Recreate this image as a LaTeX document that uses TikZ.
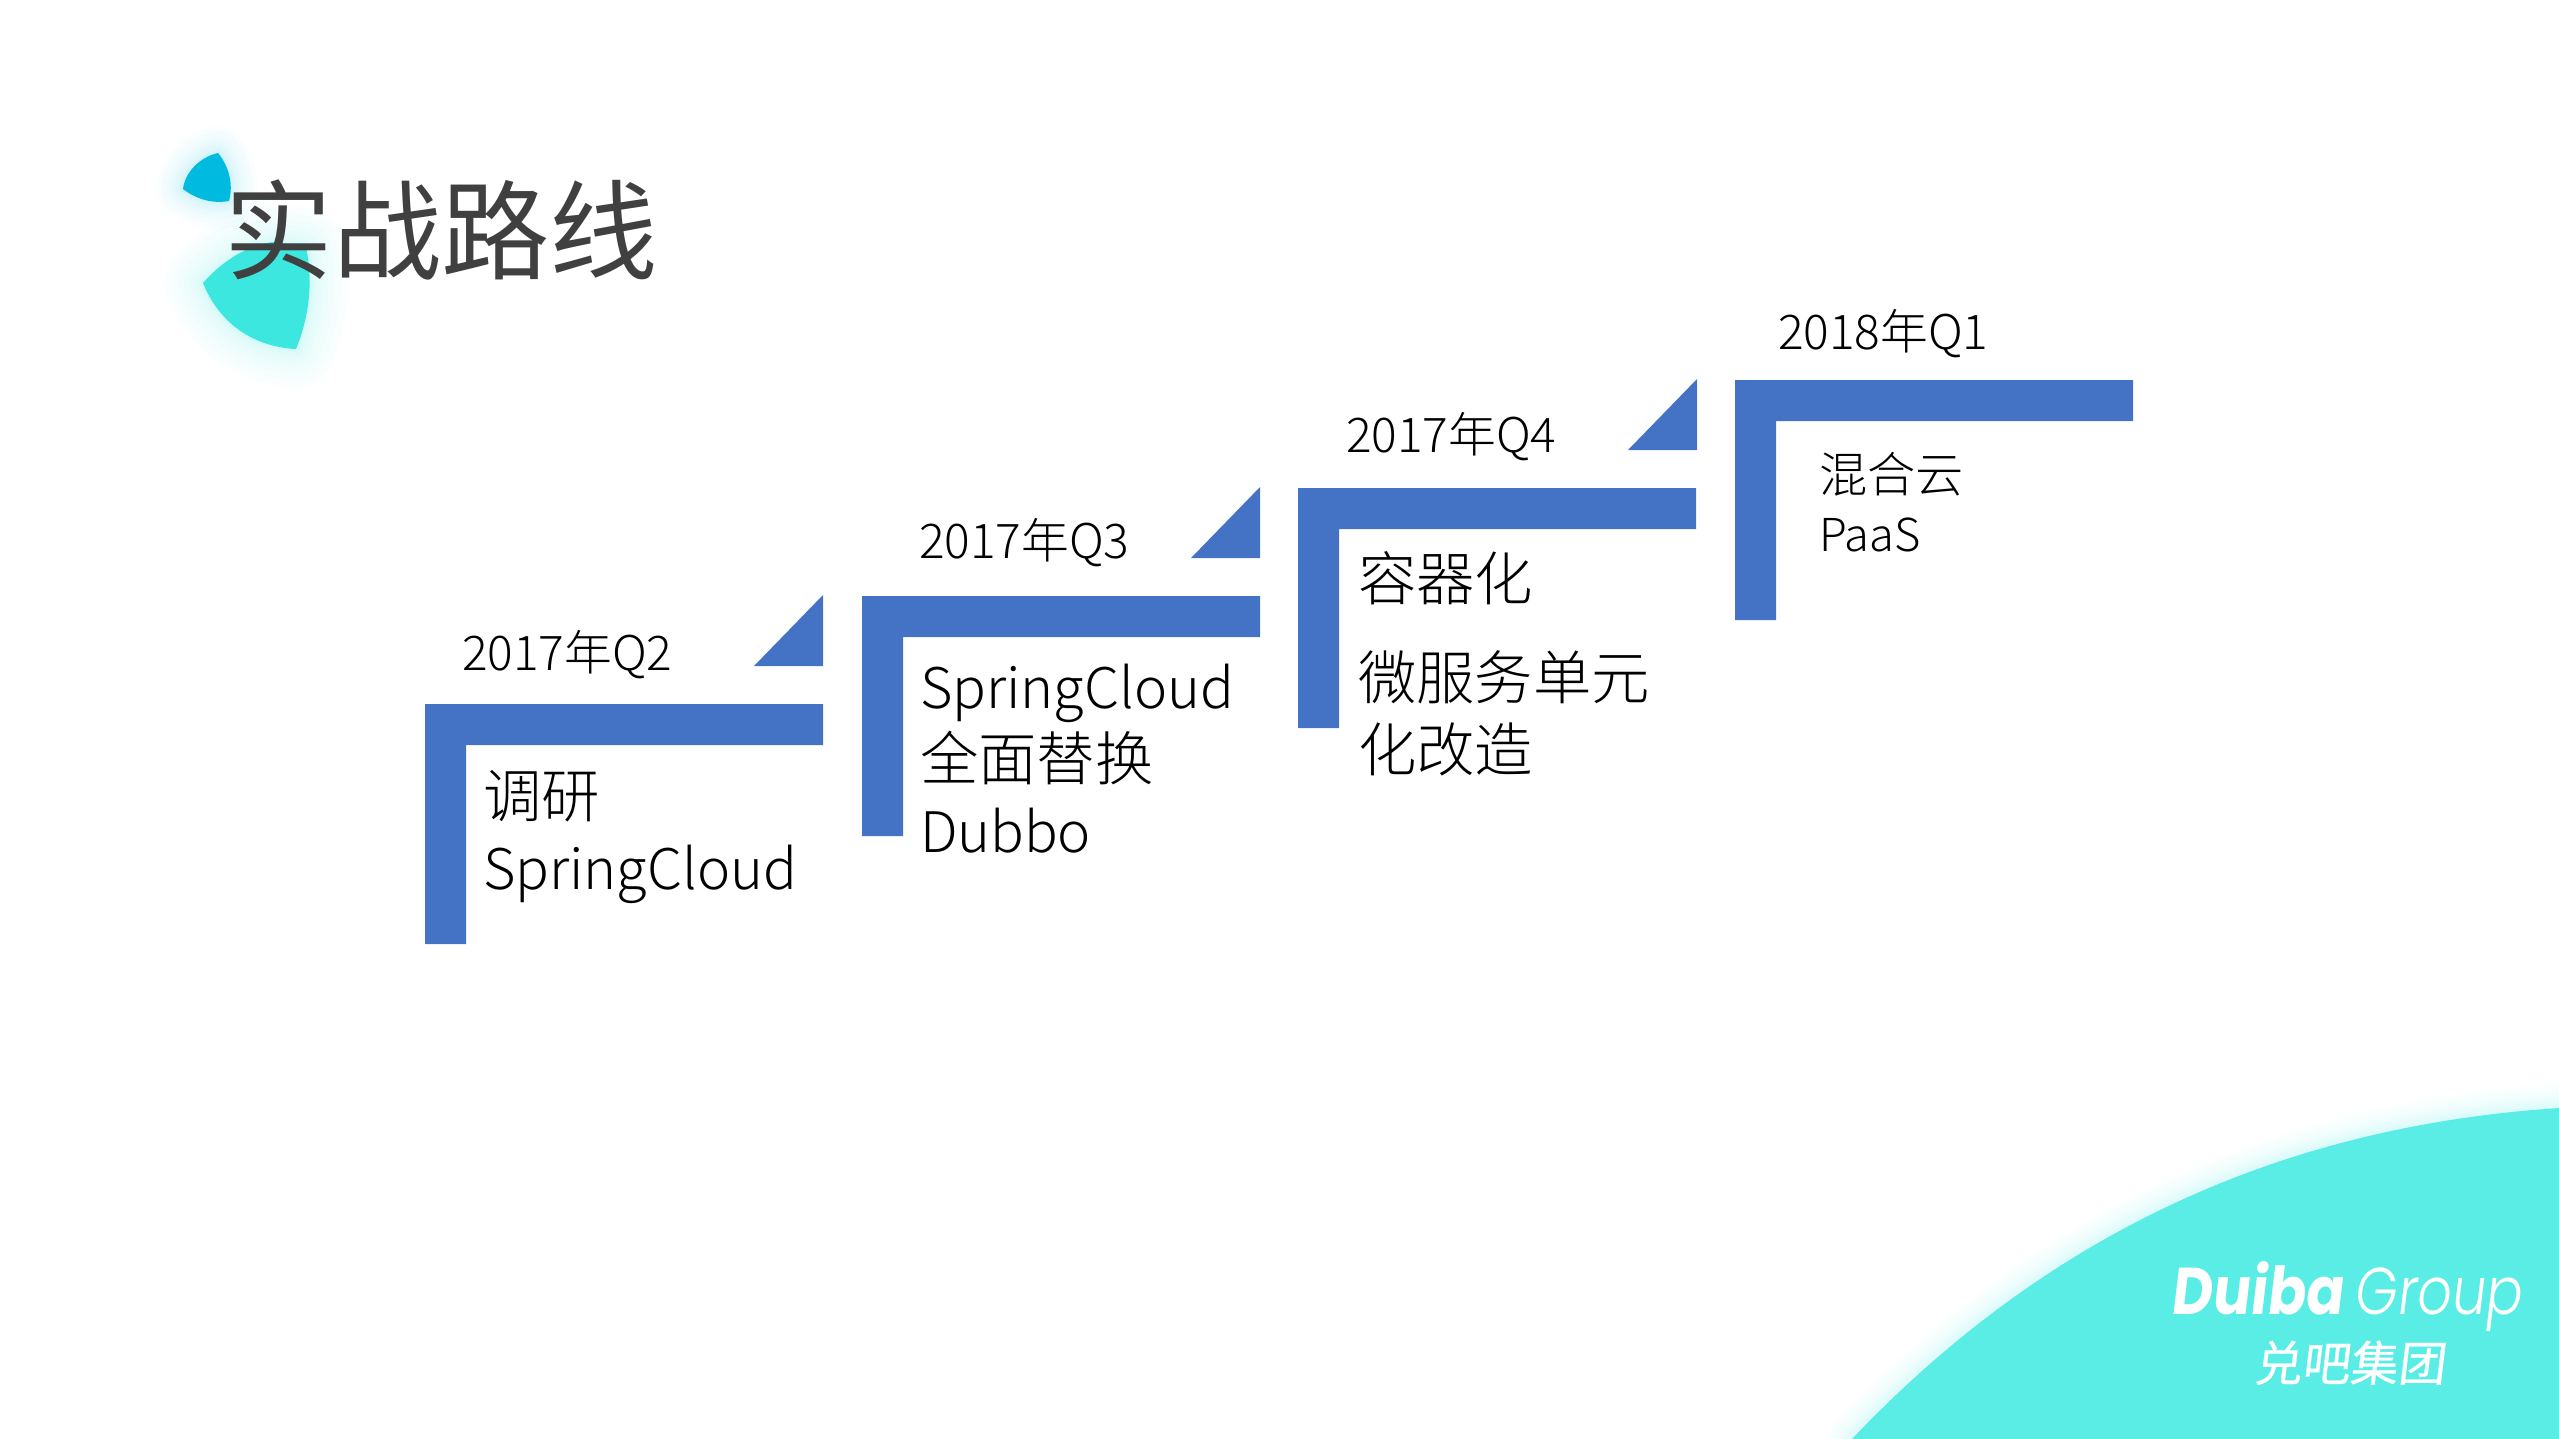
\documentclass[tikz,border=0pt]{standalone}
\usepackage{fontspec}
\setmainfont{Noto Sans CJK SC Light}
\newfontfamily\titlefont{Noto Sans CJK SC}
\newfontfamily\logocjk[FakeSlant=0.12,FakeBold=0.6]{Noto Sans CJK SC}
\newfontfamily\logofont[FakeSlant=0.12,FakeStretch=0.85]{Poppins}
\newfontfamily\logolight[FakeSlant=0.12,FakeStretch=0.82]{Poppins Light}
\usetikzlibrary{calc}
\definecolor{stepblue}{HTML}{4472C4}
\definecolor{bigteal}{HTML}{3CE7DF}
\definecolor{smallteal}{HTML}{00BBDF}
\definecolor{cornerteal}{HTML}{59EDE6}
\definecolor{titlegrey}{HTML}{404040}
\newcommand{\bigblob}{(203,283) .. controls (225,258) and (250,245) .. (273,242) -- (306,247) .. controls (313,280) and (310,315) .. (296,349) .. controls (255,347) and (220,325) .. (203,283) -- cycle}
\newcommand{\smallblob}{(218,153) .. controls (228,165) and (234,183) .. (229,201) .. controls (212,204) and (196,199) .. (183,189) .. controls (185,172) and (200,157) .. (218,153) -- cycle}
\newcommand{\cornerblob}{(1852,1439) .. controls (2060,1220) and (2300,1125) .. (2559,1108) -- (2559,1439) -- cycle}
\newcommand{\lat}[2]{{\fontsize{#1}{#1}\selectfont #2}}
\begin{document}
\begin{tikzpicture}[x=0.01cm,y=-0.01cm,
    date/.style={anchor=base west,inner sep=0pt,outer sep=0pt,font=\fontsize{13.6}{13.6}\selectfont},
    body/.style={anchor=base west,inner sep=0pt,outer sep=0pt,font=\fontsize{16.6}{20.4}\selectfont,align=left}]
    \useasboundingbox (0, 0) rectangle (2559, 1439);
    \pgfmathsetmacro{\barw}{398}
    \pgfmathsetmacro{\bart}{41}
    \pgfmathsetmacro{\barh}{240}
    % soft edges
    \foreach \w in {1, 2, 3, 4, 6, 8, 11, 14, 18, 22} {
      \draw[draw=bigteal, line width=\w pt, opacity=0.025, line join=round] \bigblob;
      \draw[draw=smallteal, line width=0.7*\w pt, opacity=0.02, line join=round] \smallblob;
    }
    \foreach \w in {1, 2, 3, 4, 5, 6, 8, 10, 12, 14} {
      \draw[draw=cornerteal, line width=\w pt, opacity=0.025, line join=round] \cornerblob;
    }
    \fill[bigteal] \bigblob;
    \fill[smallteal] \smallblob;
    \fill[cornerteal] \cornerblob;
    % the steps
    \foreach \k/\x/\y in {1/425/704, 2/862/596, 3/1298/488, 4/1735/380} {
      \fill[stepblue] (\x, \y) -- ++(\barw, 0) -- ++(0, \bart) -- ++({\bart-\barw}, 0) -- ++(0, {\barh-\bart}) -- ++(-\bart, 0) -- cycle;
    }
    \foreach \r/\t in {823/595, 1260/487, 1697/379} {
      \fill[stepblue] (\r, \t) -- (\r, {\t+71}) -- ({\r-69}, {\t+71}) -- cycle;
    }
    \node[date] (q2) at (462, 670) {2017年Q2};
    \node[date] (q3) at (919, 558) {2017年Q3};
    \node[date] (q4) at (1346, 452) {2017年Q4};
    \node[date] (q1) at (1778, 349) {2018年Q1};
    \node[body] (research) at (483, 889) {调研\\\lat{15.9}{SpringCloud}};
    \node[body] (replace) at (920, 852) {\lat{15.9}{SpringCloud}\\全面替换\\\lat{15.9}{Dubbo}};
    \node[body] (container) at (1358, 771) {容器化\\[7.6pt]微服务单元\\化改造};
    \node[body,font=\fontsize{13.7}{16.6}\selectfont] (cloud) at (1819, 551) {混合云\\\lat{12.9}{PaaS}};
    \node[anchor=base west,inner sep=0pt,titlegrey,font=\titlefont\fontsize{30.8}{30.8}\selectfont] (title) at (224, 271) {实战路线};
    \node[anchor=base west,inner sep=0pt,white,font=\logofont\bfseries\fontsize{18.8}{18.8}\selectfont] (logo) at (2170, 1314) {Duiba};
    \node[anchor=base west,inner sep=0pt,white,font=\logolight\fontsize{18.8}{18.8}\selectfont] (group) at (2353, 1314) {Group};
    \node[anchor=base west,inner sep=0pt,white,font=\logocjk\fontsize{13.6}{13.6}\selectfont] (logocn) at (2253, 1381) {兑吧集团};
  \end{tikzpicture}
\end{document}
